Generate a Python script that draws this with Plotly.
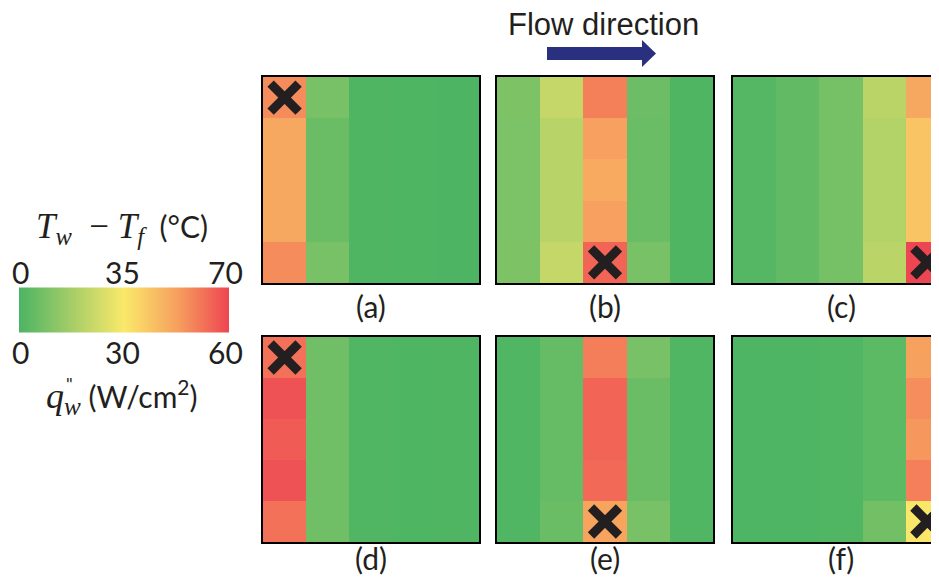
import plotly.graph_objects as go

# Page body has an 8px margin, so the figure is drawn from (8, 8) in the window.
OFF = 8
W, H = 939 - OFF, 577 - OFF

# ---------------- data ----------------
cell_cols = [0, 1, 2, 3, 4]
cell_rows = [0, 1, 2, 3, 4]

# Tw - Tf (°C), rows top -> bottom, columns left -> right
temp_a = [
    [56.5, 8.8, 1.0, 0.5, 0.3],
    [50.8, 6.2, 1.0, 0.5, 0.3],
    [50.8, 6.2, 1.0, 0.5, 0.3],
    [50.8, 6.2, 1.0, 0.5, 0.3],
    [56.5, 8.8, 1.0, 0.5, 0.3],
]
temp_b = [
    [10.0, 24.0, 58.8, 6.5, 1.0],
    [9.5, 21.4, 52.7, 6.3, 0.8],
    [9.5, 21.4, 50.4, 6.3, 0.8],
    [9.5, 21.4, 52.7, 6.3, 0.8],
    [10.0, 24.0, 64.1, 8.8, 1.0],
]
temp_c = [
    [1.9, 4.5, 8.4, 21.8, 50.8],
    [1.9, 4.5, 8.4, 20.4, 44.0],
    [1.9, 4.5, 8.4, 20.4, 44.0],
    [1.9, 4.5, 8.4, 20.4, 44.0],
    [1.9, 4.5, 8.4, 21.8, 70.0],
]
# q''_w (W/cm^2)
flux_d = [
    [52.8, 6.2, 0.9, 0.5, 0.7],
    [57.9, 6.2, 0.9, 0.5, 0.7],
    [56.4, 6.2, 0.9, 0.5, 0.7],
    [57.9, 6.2, 0.9, 0.5, 0.7],
    [52.8, 6.2, 0.9, 0.5, 0.7],
]
flux_e = [
    [0.9, 4.5, 50.7, 7.5, 0.9],
    [0.9, 4.5, 54.9, 5.4, 0.9],
    [0.9, 4.5, 54.9, 5.4, 0.9],
    [0.9, 4.5, 54.0, 5.4, 0.9],
    [0.9, 5.4, 44.4, 7.5, 0.9],
]
flux_f = [
    [0.3, 0.3, 0.9, 2.8, 45.0],
    [0.3, 0.3, 0.9, 2.8, 48.3],
    [0.3, 0.3, 0.9, 2.8, 46.5],
    [0.3, 0.3, 0.9, 2.8, 50.6],
    [0.3, 0.3, 0.9, 6.5, 30.4],
]
panel_values = [temp_a, temp_b, temp_c, flux_d, flux_e, flux_f]
panel_zmax = [70, 70, 70, 60, 60, 60]
panel_labels = ["(a)", "(b)", "(c)", "(d)", "(e)", "(f)"]
hot_cols = [0, 2, 4, 0, 2, 4]
hot_rows = [0, 4, 4, 0, 4, 4]

temp_ticks = ["0", "35", "70"]
flux_ticks = ["0", "30", "60"]

# ---------------- style ----------------
colorscale = [[0.0, "#4bb463"], [0.25, "#a5cd68"], [0.5, "#fae96a"],
              [0.75, "#f7a15f"], [1.0, "#ee4552"]]
TXT = "#231f20"
SANS = "Lato, 'Open Sans', sans-serif"
SERIF = "'Liberation Serif', serif"
NB = "\u00a0"


def px(x):
    return (x - OFF) / W


def py(y):
    return 1 - (y - OFF) / H


col_px = [(263, 479), (497, 713), (733, 949)]
row_px = [(77, 283), (337, 542)]
label_px_y = [306, 558]

fig = go.Figure()
layout = dict(
    width=W, height=H, margin=dict(l=0, r=0, t=0, b=0),
    paper_bgcolor="white", plot_bgcolor="white", showlegend=False,
)
annotations = []
shapes = []

for i, vals in enumerate(panel_values):
    r, c = divmod(i, 3)
    x0, x1 = col_px[c]
    y0, y1 = row_px[r]
    vis_x1 = min(x1, 939)
    cell_w = (x1 - x0) / len(cell_cols)
    xmax = -0.5 + (vis_x1 - x0) / cell_w
    xa = "xaxis" if i == 0 else f"xaxis{i+1}"
    ya = "yaxis" if i == 0 else f"yaxis{i+1}"
    xr = "x" if i == 0 else f"x{i+1}"
    yr = "y" if i == 0 else f"y{i+1}"
    cut = vis_x1 < x1
    layout[xa] = dict(domain=[px(x0), min(1.0, px(vis_x1))], range=[-0.5, xmax], anchor=yr,
                      showgrid=False, zeroline=False, showticklabels=False, ticks="",
                      showline=True, mirror=True, linecolor="black", linewidth=2)
    layout[ya] = dict(domain=[py(y1), py(y0)], range=[4.5, -0.5], anchor=xr,
                      showgrid=False, zeroline=False, showticklabels=False, ticks="",
                      showline=True, mirror=(not cut), linecolor="black", linewidth=2)
    trace_kw = dict(
        z=vals, x=cell_cols, y=cell_rows, colorscale=colorscale,
        zmin=0, zmax=panel_zmax[i], xaxis=xr, yaxis=yr, hoverinfo="skip",
        showscale=(i == 0), xgap=0, ygap=0,
    )
    if i == 0:
        trace_kw["colorbar"] = dict(
            orientation="h", x=px(124), xanchor="center", y=py(309.5), yanchor="middle",
            len=210, lenmode="pixels", thickness=45, thicknessmode="pixels",
            outlinewidth=0, showticklabels=False, ticks="", xpad=0, ypad=0,
        )
    fig.add_trace(go.Heatmap(**trace_kw))
    fig.add_trace(go.Scatter(
        x=[hot_cols[i]], y=[hot_rows[i]], mode="markers", xaxis=xr, yaxis=yr,
        marker=dict(symbol="x-thin", size=28, color=TXT,
                    line=dict(width=9, color=TXT)),
        hoverinfo="skip", cliponaxis=True,
    ))
    annotations.append(dict(
        text=panel_labels[i], x=px((x0 + x1) / 2), y=py(label_px_y[r]), xref="paper", yref="paper",
        showarrow=False, xanchor="center", yanchor="middle",
        font=dict(family=SANS, size=30, color=TXT),
    ))

# Flow direction text + arrow
annotations.append(dict(
    text="Flow direction", x=px(603), y=py(24), xref="paper", yref="paper",
    showarrow=False, xanchor="center", yanchor="middle",
    font=dict(family="'Liberation Sans', Arial, sans-serif", size=31, color=TXT),
))
arrow_pts = [(547, 47), (642, 47), (642, 40), (656, 53.5), (642, 67), (642, 60), (547, 60)]
path = "M " + " L ".join(f"{px(x):.5f},{py(y):.5f}" for x, y in arrow_pts) + " Z"
shapes.append(dict(type="path", path=path, xref="paper", yref="paper",
                   fillcolor="#28307f", line=dict(width=0)))

# Colorbar labels
tick_x = [20, 122, 225]
for t, xx in zip(temp_ticks, tick_x):
    annotations.append(dict(text=t, x=px(xx), y=py(272), xref="paper", yref="paper",
                            showarrow=False, xanchor="center", yanchor="middle",
                            font=dict(family=SANS, size=30, color=TXT)))
for t, xx in zip(flux_ticks, tick_x):
    annotations.append(dict(text=t, x=px(xx), y=py(352), xref="paper", yref="paper",
                            showarrow=False, xanchor="center", yanchor="middle",
                            font=dict(family=SANS, size=30, color=TXT)))

annotations.append(dict(
    text=(f"<span style=\"font-family:{SERIF};font-size:35px\"><i>T</i><sub><i>w</i></sub>{NB}{NB}−{NB}"
          f"<i>T</i><sub><i>f</i></sub></span>{NB}{NB}(°C)"),
    x=px(122), y=py(228), xref="paper", yref="paper", showarrow=False,
    xanchor="center", yanchor="middle", font=dict(family=SANS, size=30, color=TXT),
))
annotations.append(dict(
    text=(f"<span style=\"font-family:{SERIF};font-size:36px\"><i>q</i><sub><i>w</i></sub></span>"
          f"{NB}(W/cm<sup>2</sup>)"),
    x=px(122), y=py(397), xref="paper", yref="paper", showarrow=False,
    xanchor="center", yanchor="middle", font=dict(family=SANS, size=30, color=TXT),
))
annotations.append(dict(
    text="\"", x=px(69), y=py(384), xref="paper", yref="paper", showarrow=False,
    xanchor="center", yanchor="middle", font=dict(family=SANS, size=18, color=TXT),
))

layout["annotations"] = annotations
layout["shapes"] = shapes
fig.update_layout(**layout)
fig.write_html("out.html")
